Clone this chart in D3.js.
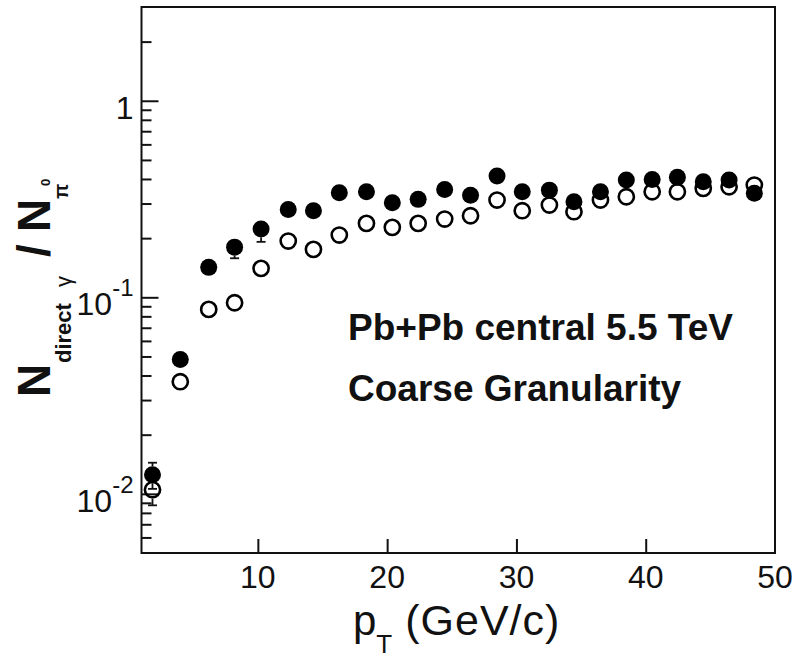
<!DOCTYPE html>
<html>
<head>
<meta charset="utf-8">
<script src="https://cdn.jsdelivr.net/npm/d3@7"></script>
<style>
    html, body { margin: 0; padding: 0; background: white; }
    svg text { font-family: "Liberation Sans", Arial, sans-serif; white-space: pre; }
</style>
</head>
<body>
<svg id="chart" width="804" height="659"></svg>
<script>
// pT bin centres (GeV/c)
const ptValues = [1.85, 4.0, 6.2, 8.2, 10.25, 12.35, 14.3, 16.3, 18.4, 20.4, 22.4, 24.45,
    26.45, 28.5, 30.45, 32.55, 34.45, 36.5, 38.5, 40.5, 42.45, 44.45, 46.45, 48.4];

// filled circles
const filledValues = [0.0125, 0.0483, 0.142, 0.180, 0.2225, 0.280, 0.276, 0.340, 0.344, 0.303, 0.315, 0.354,
    0.331, 0.414, 0.344, 0.351, 0.306, 0.344, 0.395, 0.398, 0.408, 0.387, 0.395, 0.338];
const filledErrLow = [0.0019, 0.002, 0.004, 0.022, 0.031, 0.008, 0.008, 0.008, 0.008, 0.008, 0.008, 0.008,
    0.008, 0.01, 0.01, 0.01, 0.01, 0.01, 0.01, 0.01, 0.01, 0.01, 0.01, 0.032];
const filledErrHigh = [0.0019, 0.002, 0.004, 0.006, 0.008, 0.008, 0.008, 0.008, 0.008, 0.008, 0.008, 0.008,
    0.008, 0.01, 0.01, 0.01, 0.01, 0.01, 0.01, 0.01, 0.01, 0.01, 0.01, 0.01];

// open circles
const openValues = [0.0105, 0.0372, 0.0868, 0.0938, 0.1404, 0.1933, 0.1754, 0.2074, 0.2378, 0.227, 0.2378, 0.2502,
    0.260, 0.3125, 0.2758, 0.2947, 0.2726, 0.3125, 0.3249, 0.3444, 0.3444, 0.3584, 0.3652, 0.3725];
const openErrLow = [0.00176, 0.002, 0.003, 0.003, 0.005, 0.006, 0.006, 0.006, 0.007, 0.007, 0.007, 0.007,
    0.008, 0.008, 0.008, 0.008, 0.008, 0.008, 0.008, 0.008, 0.008, 0.008, 0.008, 0.008];
const openErrHigh = [0.0015, 0.002, 0.003, 0.003, 0.005, 0.006, 0.006, 0.006, 0.007, 0.007, 0.007, 0.007,
    0.008, 0.008, 0.008, 0.008, 0.008, 0.008, 0.008, 0.008, 0.008, 0.008, 0.008, 0.008];

const xTicks = [10, 20, 30, 40, 50];
const yMajorTicks = [0.01, 0.1, 1];
const yMajorLabels = [["10", "-2"], ["10", "-1"], ["1", ""]];
const yMinorTicks = [0.006, 0.007, 0.008, 0.009, 0.02, 0.03, 0.04, 0.05, 0.06, 0.07, 0.08, 0.09,
    0.2, 0.3, 0.4, 0.5, 0.6, 0.7, 0.8, 0.9, 2];
const annotations = ["Pb+Pb central 5.5 TeV", "Coarse Granularity"];

const margin = { top: 7, right: 29, bottom: 106, left: 141.5 };
const W = 804, H = 659;
const width = W - margin.left - margin.right;
const height = H - margin.top - margin.bottom;

const svg = d3.select("#chart");
const chart = svg.append("g").attr("transform", `translate(${margin.left}, ${margin.top})`);

const x = d3.scaleLinear().domain([1, 50]).range([0, width]);
const y = d3.scaleLog().domain([0.005, 3]).range([height, 0]);

// frame
chart.append("rect")
    .attr("width", width)
    .attr("height", height)
    .attr("fill", "none")
    .attr("stroke", "#111")
    .attr("stroke-width", 2);

// ticks point inward, ROOT style
const tickStyle = g => {
    g.select(".domain").remove();
    g.selectAll(".tick line").attr("stroke", "#111").attr("stroke-width", 2);
    g.selectAll(".tick text").remove();
};

chart.append("g")
    .call(d3.axisLeft(y).tickValues(yMajorTicks).tickSize(-17))
    .call(tickStyle);

chart.append("g")
    .call(d3.axisLeft(y).tickValues(yMinorTicks).tickSize(-10))
    .call(tickStyle);

chart.append("g")
    .attr("transform", `translate(0, ${height})`)
    .call(d3.axisBottom(x).tickValues(xTicks.filter(t => t < 50)).tickSize(-14))
    .call(tickStyle);

// x tick labels
chart.selectAll("text.xlabel")
    .data(xTicks)
    .join("text")
    .attr("class", "xlabel")
    .attr("x", d => x(d))
    .attr("y", height + 35)
    .attr("text-anchor", "middle")
    .attr("font-size", 32)
    .attr("fill", "#111")
    .text(d => d);

// y tick labels with superscript exponent
const yLabels = chart.selectAll("text.ylabel")
    .data(yMajorTicks)
    .join("text")
    .attr("class", "ylabel")
    .attr("x", -8)
    .attr("y", d => y(d) + 18)
    .attr("text-anchor", "end")
    .attr("fill", "#111");
yLabels.append("tspan")
    .attr("font-size", 32)
    .text((d, i) => yMajorLabels[i][0]);
yLabels.append("tspan")
    .attr("font-size", 24)
    .attr("dy", -19)
    .text((d, i) => yMajorLabels[i][1]);

// axis titles
const xTitle = svg.append("text")
    .attr("x", 353)
    .attr("y", 635)
    .attr("fill", "#111");
xTitle.append("tspan").attr("font-size", 42).text("p");
xTitle.append("tspan").attr("font-size", 26).attr("dy", 18).text("T");
xTitle.append("tspan").attr("font-size", 43).attr("dy", -18).attr("letter-spacing", 1).text(" (GeV/c)");

const yTitle = svg.append("text")
    .attr("transform", "translate(50, 397) rotate(-90)")
    .attr("font-weight", "bold")
    .attr("fill", "#111");
yTitle.append("tspan").attr("x", 0).attr("font-size", 46).text("N");
yTitle.append("tspan").attr("x", 34).attr("dy", 21).attr("font-size", 22).text("direct");
yTitle.append("tspan").attr("x", 110).attr("font-size", 22).attr("font-weight", "normal").text("γ");
yTitle.append("tspan").attr("x", 140).attr("dy", -21).attr("font-size", 46).text("/");
yTitle.append("tspan").attr("x", 165).attr("font-size", 46).text("N");
yTitle.append("tspan").attr("x", 198).attr("dy", 18).attr("font-size", 20).text("π");
yTitle.append("tspan").attr("x", 211).attr("dy", -18).attr("font-size", 13).text("0");

// annotations
svg.selectAll("text.note")
    .data(annotations)
    .join("text")
    .attr("class", "note")
    .attr("x", 348)
    .attr("y", (d, i) => 340 + i * 61)
    .attr("font-size", 37)
    .attr("font-weight", "bold")
    .attr("fill", "#111")
    .text(d => d);

// data
const makeSeries = (values, lo, hi) => values.map((v, i) => ({ pt: ptValues[i], v: v, lo: v - lo[i], hi: v + hi[i] }));
const filled = makeSeries(filledValues, filledErrLow, filledErrHigh);
const open = makeSeries(openValues, openErrLow, openErrHigh);

const rFilled = 8.5, rOpen = 7.6, cap = 4.5;

// error bars drawn only outside the marker, with caps
const drawErrors = (series, r, cls) => {
    const segs = [];
    series.forEach(d => {
        const cx = x(d.pt), cy = y(d.v);
        const yl = y(d.lo), yh = y(d.hi);
        if (yl - cy > r) segs.push({ cx, y1: cy + r, y2: yl });
        if (cy - yh > r) segs.push({ cx, y1: cy - r, y2: yh });
    });
    const g = chart.append("g").attr("class", cls).attr("stroke", "#111").attr("stroke-width", 1.8);
    g.selectAll("line.bar")
        .data(segs)
        .join("line")
        .attr("class", "bar")
        .attr("x1", d => d.cx).attr("x2", d => d.cx)
        .attr("y1", d => d.y1).attr("y2", d => d.y2);
    g.selectAll("line.cap")
        .data(segs)
        .join("line")
        .attr("class", "cap")
        .attr("x1", d => d.cx - cap).attr("x2", d => d.cx + cap)
        .attr("y1", d => d.y2).attr("y2", d => d.y2);
};

drawErrors(filled, rFilled, "err-filled");
drawErrors(open, rOpen + 1.3, "err-open");

chart.append("g")
    .selectAll("circle")
    .data(filled)
    .join("circle")
    .attr("cx", d => x(d.pt))
    .attr("cy", d => y(d.v))
    .attr("r", rFilled)
    .attr("fill", "#000");

chart.append("g")
    .selectAll("circle")
    .data(open)
    .join("circle")
    .attr("cx", d => x(d.pt))
    .attr("cy", d => y(d.v))
    .attr("r", rOpen)
    .attr("fill", "none")
    .attr("stroke", "#000")
    .attr("stroke-width", 2.6);
</script>
</body>
</html>
